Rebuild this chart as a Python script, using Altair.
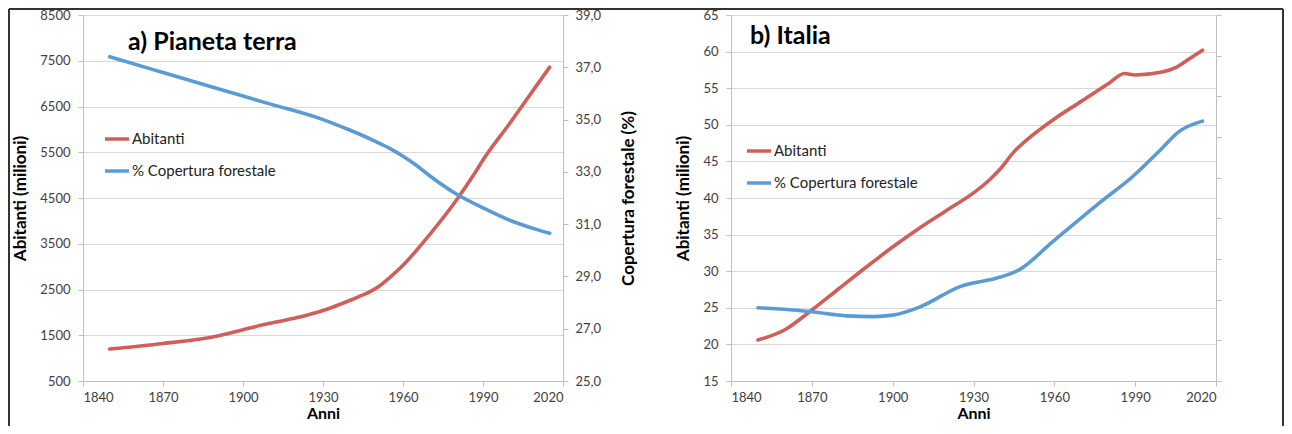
import altair as alt
import pandas as pd

# ---------------- data ----------------
# a) Pianeta terra
anni_pop_mondo = [1850, 1870, 1890, 1900, 1910, 1920, 1930, 1940, 1945, 1950, 1955, 1960, 1970, 1980, 1987, 1990, 2000, 2010, 2015]
abitanti_mondo = [1200, 1320, 1480, 1620, 1760, 1880, 2040, 2260, 2380, 2530, 2760, 3030, 3700, 4450, 5050, 5330, 6130, 6950, 7360]

anni_for_mondo = [1850, 1870, 1890, 1910, 1930, 1940, 1950, 1955, 1960, 1965, 1970, 1980, 1990, 2000, 2010, 2015]
copertura_mondo = [37.4, 36.8, 36.2, 35.6, 35.0, 34.6, 34.15, 33.9, 33.6, 33.25, 32.85, 32.15, 31.62, 31.15, 30.8, 30.65]

# b) Italia
anni_pop_italia = [1850, 1860, 1870, 1880, 1890, 1900, 1910, 1920, 1930, 1936, 1940, 1945, 1950, 1960, 1970, 1980, 1986, 1990, 2000, 2005, 2010, 2015]
abitanti_italia = [20.6, 22.0, 24.7, 27.6, 30.5, 33.3, 35.9, 38.3, 40.7, 42.5, 44.0, 46.3, 48.0, 50.8, 53.2, 55.6, 57.0, 56.8, 57.2, 57.8, 59.0, 60.2]

anni_for_italia = [1850, 1863, 1870, 1883, 1893, 1900, 1910, 1925, 1940, 1947, 1959, 1977, 1989, 2000, 2006, 2015]
copertura_italia = [25.0, 24.7, 24.45, 23.9, 23.8, 24.0, 25.1, 27.9, 29.2, 30.2, 33.9, 39.4, 42.9, 46.8, 49.0, 50.5]

serie = ["Abitanti", "% Copertura forestale"]
colori = ["#cf5f58", "#5b9bd5"]
anni_tick = [1840, 1870, 1900, 1930, 1960, 1990, 2020]

FONT = "Lato"
AX = dict(labelFont=FONT, labelFontSize=13, labelColor="#404040",
          titleFont=FONT, titleFontSize=17, titleFontWeight="bold", titleColor="#000",
          domainColor="#bfbfbf", tickColor="#bfbfbf", gridColor="#d9d9d9",
          domainWidth=1, tickWidth=1, gridWidth=1, tickSize=5)


def df(anni, valori, nome):
    return pd.DataFrame({"anno": anni, "valore": valori, "serie": nome})


def color_enc(lx, ly):
    return alt.Color(
        "serie:N",
        scale=alt.Scale(domain=serie, range=colori),
        legend=alt.Legend(
            orient="none", legendX=lx, legendY=ly, title=None,
            symbolType="stroke", symbolSize=576, symbolStrokeWidth=3.5,
            labelFont=FONT, labelFontSize=15, labelColor="#222",
            rowPadding=10, labelOffset=1, padding=0,
        ),
    )


def x_enc():
    ax = dict(AX)
    ax["titleFontSize"] = 16
    return alt.X(
        "anno:Q",
        scale=alt.Scale(domain=[1840, 2020], nice=False, zero=False),
        axis=alt.Axis(values=anni_tick, format="d", grid=False, title="Anni",
                      labelPadding=5, titlePadding=1, **ax),
    )


def titolo(testo, x, y):
    return alt.Chart(alt.Data(values=[{"t": testo}])).mark_text(
        align="left", baseline="middle", font=FONT, fontWeight="bold",
        fontSize=25, color="#000",
    ).encode(text="t:N", x=alt.value(x), y=alt.value(y))


W_L, W_R, H = 480, 485, 366

# ---------------- left panel ----------------
linea = dict(strokeWidth=3.6, interpolate="monotone", strokeCap="round")

rosso_m = alt.Chart(df(anni_pop_mondo, abitanti_mondo, serie[0])).mark_line(**linea).encode(
    x=x_enc(),
    y=alt.Y("valore:Q", scale=alt.Scale(domain=[500, 8500], nice=False, zero=False),
            axis=alt.Axis(values=list(range(500, 8501, 1000)), format="d",
                          title="Abitanti (milioni)",
                          grid=True, labelPadding=8, titlePadding=10, **AX)),
    color=color_enc(20, 110),
)
blu_m = alt.Chart(df(anni_for_mondo, copertura_mondo, serie[1])).mark_line(**linea).encode(
    x=x_enc(),
    y=alt.Y("valore:Q", scale=alt.Scale(domain=[25, 39], nice=False, zero=False),
            axis=alt.Axis(orient="right", values=list(range(25, 40, 2)),
                          labelExpr="replace(format(datum.value, '.1f'), '.', ',')",
                          title="Copertura forestale (%)", titleAngle=270,
                          titleBaseline="top",
                          grid=False, labelPadding=7, titlePadding=20, **AX)),
    color=color_enc(20, 110),
)

cornice_data = alt.Data(values=[{"k": 1}])
cornice = alt.layer(
    alt.Chart(cornice_data).mark_rule(color="#333", strokeWidth=2).encode(
        x=alt.value(-74), x2=alt.value(1200), y=alt.value(-6)),
    alt.Chart(cornice_data).mark_rule(color="#333", strokeWidth=2).encode(
        x=alt.value(-74), y=alt.value(-6), y2=alt.value(411)),
    alt.Chart(cornice_data).mark_rule(color="#333", strokeWidth=2).encode(
        x=alt.value(1200), y=alt.value(-6), y2=alt.value(411)),
)

sinistra = alt.layer(
    rosso_m, blu_m, titolo("a) Pianeta terra", 45, 27), cornice
).resolve_scale(y="independent").properties(width=W_L, height=H)

# ---------------- right panel ----------------
rosso_i = alt.Chart(df(anni_pop_italia, abitanti_italia, serie[0])).mark_line(**linea).encode(
    x=x_enc(),
    y=alt.Y("valore:Q", scale=alt.Scale(domain=[15, 65], nice=False, zero=False),
            axis=alt.Axis(values=list(range(15, 66, 5)), title="Abitanti (milioni)",
                          grid=True, labelPadding=8, titlePadding=10, **AX)),
    color=color_enc(14, 122),
)
blu_i = alt.Chart(df(anni_for_italia, copertura_italia, serie[1])).mark_line(**linea).encode(
    x=x_enc(),
    y=alt.Y("valore:Q", scale=alt.Scale(domain=[15, 65], nice=False, zero=False),
            axis=alt.Axis(orient="right", values=[15 + k * 50 / 9 for k in range(10)],
                          labels=False, title=None, grid=False, **AX)),
    color=color_enc(14, 122),
)

destra = alt.layer(
    rosso_i, blu_i, titolo("b) Italia", 19, 21)
).resolve_scale(y="independent").properties(width=W_R, height=H)

chart = alt.hconcat(sinistra, destra, spacing=168, bounds="flush").resolve_scale(
    color="independent"
).resolve_legend(color="independent").properties(
    padding=0, background="white"
).configure_view(stroke=None)

chart.save("out.html", embed_options={"renderer": "svg", "actions": False})
